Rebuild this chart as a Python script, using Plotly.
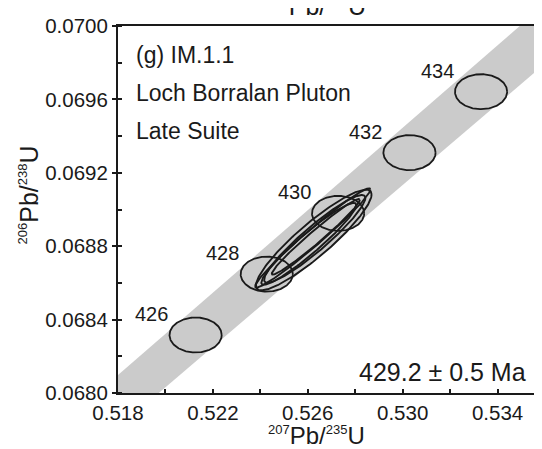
import numpy as np
import plotly.graph_objects as go

# ---- data ----
# concordia age markers (Ma) and their positions
ages = [426, 428, 430, 432, 434]
age_x = [0.521271, 0.524271, 0.527277, 0.530287, 0.533305]
age_y = [0.068316, 0.068648, 0.068979, 0.069310, 0.069642]
age_sx = [0.00110, 0.00110, 0.00110, 0.00110, 0.00110]
age_sy = [0.0000955, 0.0000955, 0.0000955, 0.0000955, 0.0000955]

# concordia uncertainty band outline
band_x = [0.518, 0.534937, 0.536, 0.536, 0.51972, 0.518]
band_y = [0.068098, 0.0700, 0.0700, 0.069795, 0.0680, 0.0680]

# analyses: 207Pb/235U, 206Pb/238U, 2-sigma errors, error correlation
pb207_u235 = [0.526252, 0.526210, 0.526294, 0.526336, 0.526042]
pb206_u238 = [0.068834, 0.068845, 0.068840, 0.068851, 0.068813]
err_x = [0.002437, 0.002429, 0.002134, 0.001855, 0.002000]
err_y = [0.0002743, 0.0002701, 0.000239, 0.000206, 0.000223]
rho = [0.905, 0.977, 0.933, 0.977, 0.948]

x_ticks = [0.518, 0.520, 0.522, 0.524, 0.526, 0.528, 0.530, 0.532, 0.534, 0.536]
x_labels = ["0.518", "", "0.522", "", "0.526", "", "0.530", "", "0.534", ""]
y_ticks = [0.0680, 0.0684, 0.0688, 0.0692, 0.0696, 0.0700]
y_labels = ["0.0680", "0.0684", "0.0688", "0.0692", "0.0696", "0.0700"]

age_text = "429.2 ± 0.5 Ma"
labels = ["(g) IM.1.1", "Loch Borralan Pluton", "Late Suite"]

FONT = "Liberation Sans, Arial, sans-serif"
INK = "#1a1a1a"
GRAY = "#cbcbcb"

t = np.linspace(0, 2 * np.pi, 240)


def ellipse(cx, cy, sx, sy, r):
    xs = cx + sx * np.cos(t)
    ys = cy + sy * (r * np.cos(t) + np.sqrt(1 - r * r) * np.sin(t))
    return xs, ys


fig = go.Figure()

# band
fig.add_trace(go.Scatter(x=band_x, y=band_y, fill="toself", fillcolor=GRAY,
                         line=dict(width=0, color=GRAY), mode="lines",
                         hoverinfo="skip", showlegend=False))

# concordia age markers
for cx, cy, sx, sy in zip(age_x, age_y, age_sx, age_sy):
    xs, ys = ellipse(cx, cy, sx, sy, 0.0)
    fig.add_trace(go.Scatter(x=xs, y=ys, fill="toself", fillcolor=GRAY,
                             line=dict(width=1.8, color=INK), mode="lines",
                             hoverinfo="skip", showlegend=False))

# data ellipses
for cx, cy, sx, sy, r in zip(pb207_u235, pb206_u238, err_x, err_y, rho):
    xs, ys = ellipse(cx, cy, sx, sy, r)
    fig.add_trace(go.Scatter(x=xs, y=ys, mode="lines",
                             line=dict(width=1.9, color=INK),
                             hoverinfo="skip", showlegend=False))

ann = []
for a, cx, cy in zip(ages, age_x, age_y):
    ann.append(dict(x=cx, y=cy, xref="x", yref="y", text=str(a), showarrow=False,
                    xanchor="center", yanchor="middle", xshift=-44, yshift=21,
                    font=dict(size=20, color=INK, family=FONT)))

for i, s in enumerate(labels):
    ann.append(dict(x=0, y=1, xref="paper", yref="paper", text=s, showarrow=False,
                    xanchor="left", yanchor="middle", xshift=16, yshift=-28.5 - 38 * i,
                    font=dict(size=23, color=INK, family=FONT)))

ann.append(dict(x=1, y=0, xref="paper", yref="paper", text=age_text, showarrow=False,
                xanchor="right", yanchor="middle", xshift=-17, yshift=21,
                font=dict(size=25, color=INK, family=FONT)))

sup = "<sup><span style='font-size:13px'>{}</span></sup>"
ann.append(dict(x=0.4655, y=0, xref="paper", yref="paper",
                text=sup.format(207) + "Pb/" + sup.format(235) + "U", showarrow=False,
                xanchor="center", yanchor="middle", yshift=-42.5,
                font=dict(size=24, color=INK, family=FONT)))
ann.append(dict(x=0, y=0.5, xref="paper", yref="paper",
                text=sup.format(206) + "Pb/" + sup.format(238) + "U", showarrow=False,
                xanchor="center", yanchor="middle", xshift=-90, yshift=14, textangle=-90,
                font=dict(size=25, color=INK, family=FONT)))
# title of the panel above, cut by the top edge
ann.append(dict(x=0.4655, y=1, xref="paper", yref="paper",
                text=sup.format(207) + "Pb/" + sup.format(235) + "U", showarrow=False,
                xanchor="center", yanchor="bottom", yshift=4,
                font=dict(size=25, color=INK, family=FONT)))

fig.update_layout(
    width=542, height=449,
    margin=dict(l=110, r=3, t=18, b=64),
    paper_bgcolor="white", plot_bgcolor="white",
    annotations=ann,
    font=dict(family=FONT, size=20, color=INK),
    xaxis=dict(range=[0.518, 0.536], tickvals=x_ticks, ticktext=x_labels,
               ticks="inside", ticklen=4, tickwidth=1.5, tickcolor=INK,
               showline=True, linecolor=INK, linewidth=2, mirror=True,
               showgrid=False, zeroline=False,
               tickfont=dict(size=20.5, color=INK, family=FONT)),
    yaxis=dict(range=[0.0680, 0.0700], tickvals=y_ticks, ticktext=y_labels,
               ticks="outside", ticklen=4, tickwidth=1.5, tickcolor=INK,
               minor=dict(tick0=0.0680, dtick=0.0002, ticks="inside", ticklen=4,
                          tickwidth=1.5, tickcolor=INK, showgrid=False),
               showline=True, linecolor=INK, linewidth=2, mirror=True,
               showgrid=False, zeroline=False,
               tickfont=dict(size=20.5, color=INK, family=FONT)),
)

fig.write_html("out.html")
